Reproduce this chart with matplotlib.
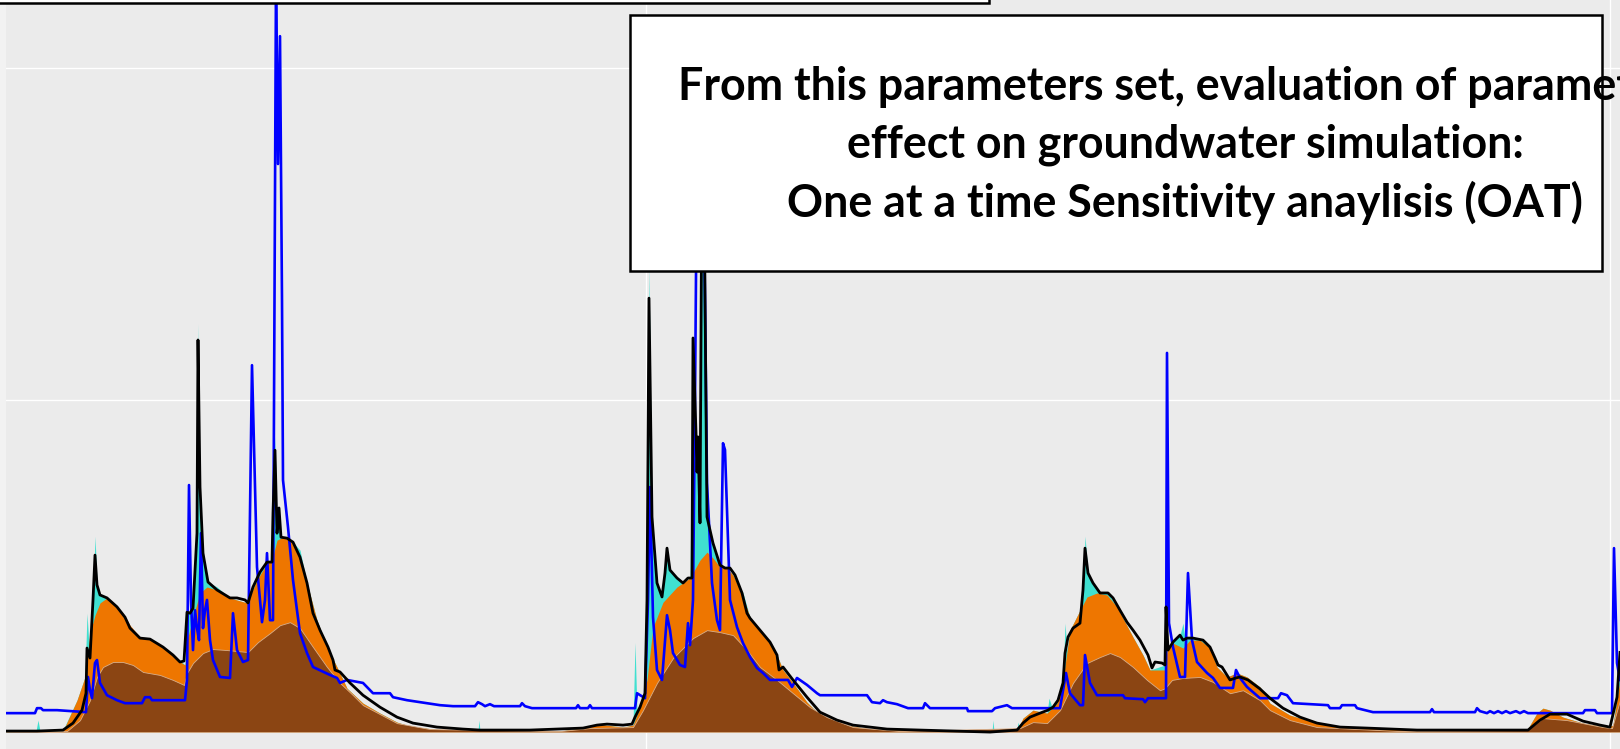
import matplotlib
matplotlib.use("Agg")
import matplotlib.pyplot as plt
from matplotlib.patches import Rectangle

# simulated level envelopes and lines (day index, level)
turq_day = [6, 36, 38, 40, 63, 77, 85, 87, 89, 93,
            95, 97, 100, 107, 117, 125, 130, 140, 150, 163,
            173, 182, 185, 187, 190, 193, 197, 198, 200, 203,
            208, 217, 230, 247, 253, 260, 267, 272, 273, 275,
            277, 279, 281, 287, 293, 300, 307, 317, 327, 337,
            347, 363, 380, 397, 413, 447, 478, 479, 480, 560,
            587, 597, 623, 633, 635, 637, 640, 645, 647, 649,
            652, 657, 662, 665, 667, 670, 677, 683, 690, 693,
            696, 697, 698, 700, 702, 705, 707, 713, 720, 727,
            733, 743, 750, 763, 775, 783, 793, 807, 820, 837,
            870, 992, 993, 994, 1017, 1018, 1020, 1023, 1033, 1047,
            1049, 1052, 1057, 1063, 1065, 1067, 1070, 1080, 1083, 1085,
            1088, 1093, 1100, 1108, 1117, 1133, 1143, 1150, 1165, 1166,
            1168, 1173, 1180, 1183, 1185, 1193, 1203, 1210, 1217, 1227,
            1237, 1247, 1260, 1270, 1290, 1317, 1350, 1527, 1537, 1543,
            1550, 1563, 1583, 1607, 1613, 1620]
turq_val = [0.03, 0.03, 0.36, 0.03, 0.06, 0.96, 1.66, 3.58, 2.6, 3.98,
            5.9, 4.5, 4.13, 4.04, 3.77, 3.46, 3.13, 2.86, 2.80, 2.56,
            2.32, 2.11, 2.02, 3.61, 3.58, 3.73, 6.0, 12.3, 7.38, 5.39,
            4.52, 4.37, 4.04, 3.89, 4.37, 4.82, 5.12, 5.18, 6.6, 8.9,
            6.0, 6.75, 5.87, 5.84, 5.72, 5.48, 4.49, 3.37, 2.56, 1.96,
            1.32, 0.87, 0.57, 0.30, 0.15, 0.06, 0.03, 0.36, 0.03, 0.03,
            0.15, 0.24, 0.15, 0.21, 2.7, 0.6, 0.75, 1.17, 3.98, 14.0,
            6.48, 4.49, 4.07, 4.79, 5.54, 4.88, 4.64, 4.49, 4.64, 11.87,
            9.01, 7.83, 8.89, 6.30, 17.5, 13.16, 6.48, 5.69, 5.03, 4.94,
            4.73, 4.19, 3.46, 2.98, 2.47, 1.87, 1.48, 0.90, 0.51, 0.27,
            0.09, 0.0, 0.36, 0.0, 0.06, 0.3, 0.06, 0.42, 0.66, 0.57,
            1.02, 0.75, 0.96, 1.57, 3.28, 2.47, 3.07, 3.67, 4.28, 5.9,
            4.79, 4.49, 4.19, 4.19, 3.77, 2.86, 2.32, 1.87, 2.02, 3.77,
            2.47, 2.71, 2.92, 3.28, 2.8, 2.83, 2.77, 2.56, 1.96, 1.66,
            1.78, 1.66, 1.36, 0.87, 0.51, 0.27, 0.12, 0.06, 0.57, 0.72,
            0.66, 0.45, 0.27, 0.15, 0.21, 1.8]

orange_day = [6, 63, 77, 85, 90, 95, 100, 107, 113, 123,
              130, 140, 150, 163, 173, 182, 185, 188, 193, 200,
              207, 217, 230, 247, 257, 267, 272, 277, 283, 290,
              297, 307, 317, 327, 337, 347, 363, 380, 397, 413,
              447, 560, 587, 597, 623, 633, 640, 647, 653, 663,
              677, 690, 700, 707, 713, 720, 727, 733, 743, 750,
              763, 775, 783, 793, 807, 820, 837, 870, 1000, 1017,
              1023, 1033, 1047, 1057, 1063, 1070, 1080, 1087, 1097, 1107,
              1117, 1133, 1143, 1150, 1165, 1167, 1173, 1183, 1190, 1200,
              1210, 1217, 1227, 1237, 1247, 1260, 1270, 1290, 1317, 1350,
              1527, 1537, 1543, 1550, 1563, 1583, 1607, 1613, 1620]
orange_val = [0.0, 0.03, 0.96, 1.66, 2.98, 3.52, 3.89, 4.04, 3.91, 3.58,
              3.22, 2.86, 2.80, 2.56, 2.32, 2.08, 2.02, 2.86, 3.46, 4.19,
              4.37, 4.28, 4.04, 3.89, 4.58, 5.09, 5.18, 5.78, 5.87, 5.78,
              5.48, 4.49, 3.37, 2.56, 1.96, 1.32, 0.87, 0.57, 0.30, 0.15,
              0.06, 0.03, 0.15, 0.24, 0.15, 0.21, 0.75, 1.57, 3.16, 3.91,
              4.37, 4.64, 5.18, 5.42, 5.24, 4.97, 4.94, 4.73, 4.07, 3.46,
              2.98, 2.47, 1.87, 1.48, 0.90, 0.51, 0.27, 0.09, 0.0, 0.06,
              0.42, 0.66, 0.57, 0.87, 1.57, 3.07, 3.67, 4.07, 4.19, 4.13,
              3.77, 2.86, 2.32, 1.87, 1.87, 2.47, 2.68, 2.53, 2.77, 2.77,
              2.53, 1.96, 1.66, 1.78, 1.66, 1.36, 0.87, 0.51, 0.27, 0.12,
              0.06, 0.57, 0.72, 0.66, 0.45, 0.27, 0.15, 0.21, 1.57]

brown_day = [6, 67, 80, 90, 97, 103, 113, 123, 133, 143,
             160, 173, 184, 187, 193, 203, 213, 227, 248, 258,
             270, 280, 290, 300, 313, 327, 340, 353, 363, 397,
             430, 560, 590, 633, 643, 657, 673, 693, 707, 720,
             733, 747, 760, 777, 793, 810, 827, 853, 900, 1020,
             1033, 1047, 1060, 1073, 1087, 1100, 1110, 1120, 1133, 1147,
             1160, 1165, 1172, 1183, 1200, 1213, 1230, 1243, 1260, 1270,
             1290, 1317, 1400, 1527, 1543, 1567, 1603, 1612, 1620]
brown_val = [0.0, 0.03, 0.36, 0.96, 1.66, 1.96, 2.11, 2.11, 2.02, 1.81,
             1.72, 1.57, 1.42, 1.78, 2.08, 2.38, 2.50, 2.47, 2.41, 2.71,
             2.98, 3.22, 3.31, 3.13, 2.56, 1.96, 1.48, 1.11, 0.81, 0.27,
             0.09, 0.03, 0.12, 0.15, 0.66, 1.48, 2.23, 2.83, 3.07, 3.01,
             2.92, 2.47, 1.96, 1.57, 1.17, 0.75, 0.45, 0.15, 0.03, 0.12,
             0.30, 0.27, 0.66, 1.48, 2.08, 2.26, 2.38, 2.26, 1.96, 1.57,
             1.26, 1.32, 1.57, 1.63, 1.66, 1.51, 1.17, 1.26, 0.96, 0.66,
             0.36, 0.15, 0.03, 0.06, 0.42, 0.36, 0.15, 0.12, 0.96]

black_day = [6, 37, 63, 73, 82, 86, 87, 90, 93, 95,
             97, 100, 107, 117, 125, 130, 140, 150, 163, 173,
             180, 184, 187, 190, 193, 197, 198, 200, 203, 208,
             217, 230, 237, 245, 248, 253, 260, 267, 272, 273,
             275, 277, 279, 281, 287, 293, 300, 307, 313, 320,
             328, 333, 335, 340, 350, 363, 380, 397, 413, 437,
             463, 480, 530, 583, 597, 607, 623, 632, 635, 640,
             645, 647, 649, 652, 657, 662, 665, 667, 670, 677,
             683, 688, 692, 693, 696, 697, 698, 700, 702, 704,
             705, 707, 710, 713, 720, 725, 730, 735, 742, 747,
             750, 760, 770, 777, 779, 783, 793, 807, 820, 837,
             853, 887, 920, 990, 1017, 1023, 1030, 1040, 1048, 1053,
             1058, 1063, 1065, 1068, 1073, 1080, 1083, 1085, 1088, 1093,
             1100, 1108, 1113, 1120, 1127, 1133, 1140, 1148, 1152, 1155,
             1162, 1165, 1166, 1168, 1173, 1180, 1183, 1187, 1193, 1203,
             1210, 1215, 1218, 1222, 1230, 1236, 1240, 1248, 1260, 1270,
             1283, 1300, 1317, 1340, 1367, 1417, 1528, 1540, 1550, 1567,
             1583, 1600, 1610, 1617, 1620]
black_val = [0.03, 0.03, 0.06, 0.27, 0.66, 1.17, 2.53, 2.23, 3.98, 5.33,
             4.43, 4.13, 4.04, 3.77, 3.46, 3.13, 2.83, 2.80, 2.56, 2.32,
             2.11, 2.14, 3.61, 3.58, 3.73, 5.99, 11.81, 7.38, 5.39, 4.52,
             4.28, 4.04, 4.04, 3.98, 3.89, 4.37, 4.82, 5.12, 5.12, 6.60,
             8.49, 5.99, 6.75, 5.87, 5.84, 5.72, 5.27, 4.49, 3.58, 3.07,
             2.56, 2.17, 1.87, 1.81, 1.48, 1.11, 0.75, 0.45, 0.27, 0.15,
             0.09, 0.06, 0.06, 0.12, 0.21, 0.24, 0.21, 0.24, 0.45, 0.75,
             1.17, 3.98, 13.07, 6.48, 4.49, 4.07, 4.79, 5.54, 4.88, 4.64,
             4.49, 4.64, 4.64, 11.87, 9.01, 7.83, 8.89, 6.30, 17.5, 17.5,
             13.16, 6.48, 6.08, 5.69, 5.03, 4.94, 4.94, 4.73, 4.19, 3.58,
             3.43, 3.07, 2.71, 2.32, 1.87, 1.96, 1.57, 1.05, 0.60, 0.36,
             0.21, 0.09, 0.06, 0.0, 0.06, 0.27, 0.45, 0.57, 0.66, 0.75,
             0.96, 1.48, 2.38, 2.86, 3.13, 3.28, 4.28, 5.54, 4.79, 4.49,
             4.19, 4.19, 4.04, 3.67, 3.31, 3.07, 2.77, 2.32, 1.93, 2.11,
             2.08, 2.02, 3.77, 2.47, 2.71, 2.92, 2.77, 2.83, 2.83, 2.77,
             2.56, 2.23, 2.02, 1.96, 1.57, 1.63, 1.66, 1.57, 1.30, 1.02,
             0.72, 0.45, 0.27, 0.15, 0.12, 0.06, 0.06, 0.36, 0.54, 0.54,
             0.33, 0.21, 0.15, 1.05, 2.4]

blue_day = [6, 35, 37, 41, 43, 57, 86, 88, 90, 92,
            95, 97, 100, 107, 117, 125, 142, 145, 150, 152,
            185, 187, 189, 191, 193, 195, 197, 199, 201, 203,
            205, 207, 210, 213, 220, 230, 233, 237, 243, 248,
            252, 257, 262, 265, 267, 270, 273, 274, 276, 278,
            280, 282, 283, 288, 293, 300, 307, 313, 330, 337,
            340, 347, 363, 370, 373, 390, 393, 407, 427, 440,
            453, 475, 478, 482, 485, 490, 494, 520, 522, 525,
            532, 576, 578, 580, 588, 590, 592, 635, 637, 645,
            648, 650, 653, 657, 662, 667, 670, 673, 680, 685,
            688, 690, 693, 695, 697, 700, 703, 705, 707, 712,
            717, 720, 723, 725, 730, 737, 743, 750, 757, 763,
            770, 788, 792, 797, 807, 817, 820, 867, 872, 880,
            883, 887, 897, 908, 923, 925, 930, 967, 968, 992,
            995, 1007, 1012, 1060, 1066, 1070, 1080, 1083, 1085, 1090,
            1097, 1123, 1125, 1143, 1145, 1148, 1166, 1167, 1169, 1173,
            1180, 1185, 1188, 1192, 1197, 1207, 1213, 1220, 1233, 1236,
            1240, 1247, 1260, 1278, 1281, 1287, 1293, 1328, 1330, 1340,
            1342, 1355, 1357, 1373, 1430, 1432, 1434, 1475, 1477, 1480,
            1487, 1490, 1494, 1498, 1502, 1506, 1510, 1516, 1520, 1524,
            1528, 1583, 1585, 1595, 1597, 1612, 1614, 1617, 1620]
blue_val = [0.57, 0.57, 0.72, 0.72, 0.66, 0.66, 0.60, 1.66, 1.26, 1.02,
            2.08, 2.17, 1.48, 1.11, 0.96, 0.87, 0.87, 1.05, 1.05, 0.96,
            0.96, 1.57, 7.44, 3.98, 2.47, 3.67, 3.13, 2.77, 5.99, 3.13,
            3.67, 3.98, 2.77, 2.17, 1.66, 1.63, 3.58, 2.47, 2.11, 2.17,
            11.05, 4.97, 3.31, 3.98, 5.39, 3.37, 3.37, 10.0, 22.65, 17.11,
            20.96, 13.01, 7.59, 6.17, 4.58, 2.98, 2.38, 1.96, 1.72, 1.63,
            1.48, 1.57, 1.48, 1.26, 1.17, 1.17, 1.05, 0.96, 0.87, 0.81,
            0.78, 0.78, 0.90, 0.84, 0.78, 0.84, 0.78, 0.78, 0.87, 0.78,
            0.72, 0.72, 0.81, 0.72, 0.72, 0.81, 0.72, 0.72, 1.17, 1.02,
            3.98, 7.38, 3.46, 1.87, 1.57, 3.52, 3.07, 2.38, 2.02, 1.96,
            3.28, 2.62, 3.98, 10.0, 17.5, 14.5, 17.5, 13.1, 7.5, 4.49,
            3.37, 3.07, 8.70, 8.50, 3.98, 3.16, 2.68, 2.26, 1.93, 1.78,
            1.57, 1.57, 1.36, 1.63, 1.42, 1.17, 1.11, 1.11, 0.90, 0.87,
            0.96, 0.90, 0.84, 0.72, 0.72, 0.87, 0.72, 0.72, 0.63, 0.63,
            0.72, 0.81, 0.72, 0.72, 1.78, 1.17, 0.81, 0.81, 2.32, 1.48,
            1.11, 1.11, 1.02, 0.99, 0.90, 1.02, 1.02, 11.42, 3.28, 2.56,
            1.66, 1.66, 4.79, 2.77, 2.11, 1.78, 1.63, 1.33, 1.33, 1.87,
            1.63, 1.36, 1.02, 1.02, 1.17, 1.11, 0.87, 0.81, 0.72, 0.72,
            0.81, 0.81, 0.72, 0.60, 0.60, 0.69, 0.60, 0.60, 0.72, 0.63,
            0.57, 0.63, 0.57, 0.63, 0.57, 0.63, 0.57, 0.63, 0.57, 0.63,
            0.57, 0.57, 0.66, 0.66, 0.57, 0.57, 5.54, 2.08, 1.57]

grid_days = [646, 1610]
grid_levels = [10, 20]

box_lines = ["From this parameters set, evaluation of parameters",
             "effect on groundwater simulation:",
             "One at a time Sensitivity anaylisis (OAT)"]

W, H = 1620, 749
fig = plt.figure(figsize=(W / 100, H / 100), dpi=100, facecolor="#F2F2F2")
ax = fig.add_axes([6 / W, 0, 1 - 6 / W, 1])
ax.set_facecolor("#EBEBEB")
ax.set_xlim(6, 1620)
ax.set_ylim(-0.51, 22.05)
ax.set_xticks(grid_days)
ax.set_yticks(grid_levels)
ax.grid(True, color="white", lw=1.0)
ax.set_axisbelow(True)
ax.tick_params(length=0, labelbottom=False, labelleft=False)
for s in ax.spines.values():
    s.set_visible(False)

ax.fill_between(turq_day, 0, turq_val, color="#40E0D0", lw=0, zorder=2)
ax.fill_between(orange_day, 0, orange_val, color="#EE7600", lw=0, zorder=3)
ax.fill_between(brown_day, 0, brown_val, facecolor="#8B4513",
                edgecolor="#D8AE8A", lw=0.6, zorder=4)
ax.plot(blue_day, blue_val, color="#0000FF", lw=1.9, zorder=5)
ax.plot(black_day, black_val, color="black", lw=2.0, zorder=6)

# boxes laid over the plot
fig.add_artist(Rectangle((-0.02, (H - 3) / H), 989 / W + 0.02, 0.2,
                         transform=fig.transFigure, facecolor="white",
                         edgecolor="black", lw=1.8, zorder=10))
fig.add_artist(Rectangle((630 / W, (H - 271) / H), 0.6, (271 - 15) / H,
                         transform=fig.transFigure, facecolor="white",
                         edgecolor="black", lw=1.8, zorder=10))

texts = []
for line, yb in zip(box_lines, [100, 158, 217]):
    texts.append(fig.text(1185 / W, 1 - yb / H, line, ha="center", va="baseline",
                          fontsize=27, fontweight="bold", family="Lato", zorder=11))

# fit the text width to the reference
fig.canvas.draw()
r = fig.canvas.get_renderer()
k = 795 / texts[2].get_window_extent(r).width
for t in texts:
    t.set_fontsize(27 * k)

fig.savefig("out.png", dpi=100, facecolor=fig.get_facecolor())
